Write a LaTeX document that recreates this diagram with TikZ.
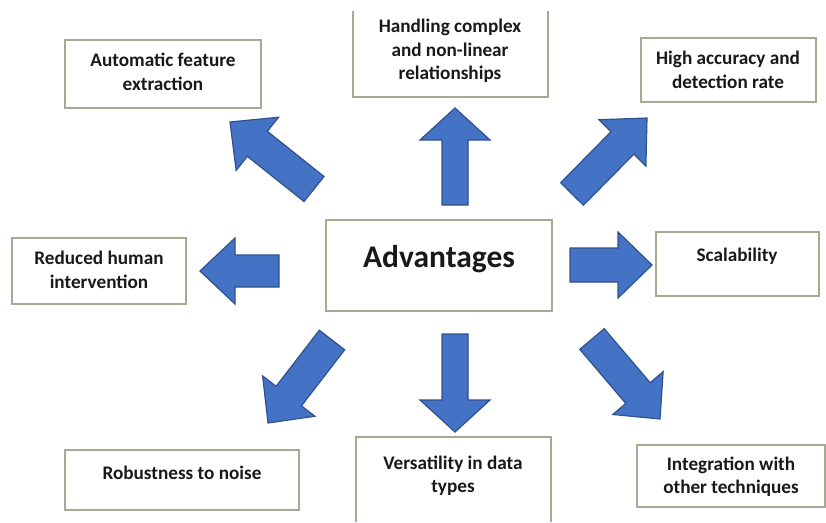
\documentclass[tikz,border=0pt]{standalone}
\usepackage{fontspec}
\setmainfont{Carlito}
\usetikzlibrary{calc}
\definecolor{arrfill}{HTML}{4472C4}
\definecolor{arrline}{HTML}{2F528F}
\definecolor{boxline}{HTML}{A3AC93}
\tikzset{
  boxframe/.style={draw=boxline, line width=1.5pt},
  lbl/.style={font=\bfseries\fontsize{19.2}{23.5}\selectfont, align=center, inner sep=0pt, text=black!90},
  biglbl/.style={font=\bfseries\fontsize{31.5}{34}\selectfont, inner sep=0pt, text=black!90},
  blockarr/.style={fill=arrfill, draw=arrline, line width=1.2pt, line join=miter}
}
\newcommand{\blockarrow}[6]{%
  \coordinate (#6h) at ($(#2)!#5!(#1)$);
  \draw[blockarr] ($(#1)!#3!90:(#2)$) -- ($(#6h)!#3!90:(#2)$) -- ($(#6h)!#4!90:(#2)$) -- (#2)
    -- ($(#6h)!#4!-90:(#2)$) -- ($(#6h)!#3!-90:(#2)$) -- ($(#1)!#3!-90:(#2)$) -- cycle;}
\begin{document}
\begin{tikzpicture}[x=1pt,y=-1pt]
\useasboundingbox[fill=white] (0,0) rectangle (826,522);
% boxes
\draw[boxframe] (65,40) rectangle (261,108);
\draw[boxframe] (353,11) -- (353,97) -- (548,97) -- (548,11);
\draw[boxframe] (641,38) rectangle (816,102);
\draw[boxframe] (12,238) rectangle (186,304);
\draw[boxframe] (326,220) rectangle (552,311);
\draw[boxframe] (656,232) rectangle (819,296);
\draw[boxframe] (65,450) rectangle (299,510);
\draw[boxframe] (356,522) -- (356,437) -- (551,437) -- (551,522);
\draw[boxframe] (637,445) rectangle (825,507);
% labels
\node[lbl] (auto) at (163,72) {Automatic feature\\extraction};
\node[lbl] (handl) at (450,51) {Handling complex\\and non-linear\\relationships};
\node[lbl] (high) at (728,70) {High accuracy and\\detection rate};
\node[lbl] (red) at (99,270) {Reduced human\\intervention};
\node[biglbl] (adv) at (439,259) {Advantages};
\node[lbl] (scal) at (737,256) {Scalability};
\node[lbl] (rob) at (182,473) {Robustness to noise};
\node[lbl] (vers) at (453,476) {Versatility in data\\types};
\node[lbl] (integ) at (731,477) {Integration with\\other techniques};
% arrow end points
\coordinate (upT) at (455,205); \coordinate (upP) at (455,108);
\coordinate (dnT) at (455,334); \coordinate (dnP) at (455,432);
\coordinate (ltT) at (279,271); \coordinate (ltP) at (200,271);
\coordinate (rtT) at (570,265); \coordinate (rtP) at (652,265);
\coordinate (nwT) at (314,189); \coordinate (nwP) at (230,122);
\coordinate (neT) at (572,194); \coordinate (neP) at (647,118);
\coordinate (swT) at (332,340); \coordinate (swP) at (268,423);
\coordinate (seT) at (592,339); \coordinate (seP) at (660,419);
\blockarrow{upT}{upP}{13pt}{35pt}{32pt}{up}
\blockarrow{dnT}{dnP}{13pt}{35pt}{32pt}{dn}
\blockarrow{ltT}{ltP}{16pt}{33pt}{35pt}{lt}
\blockarrow{rtT}{rtP}{17pt}{33pt}{34pt}{rt}
\blockarrow{nwT}{nwP}{16pt}{34pt}{35pt}{nw}
\blockarrow{neT}{neP}{16pt}{33pt}{35pt}{ne}
\blockarrow{swT}{swP}{16pt}{33pt}{34pt}{sw}
\blockarrow{seT}{seP}{16pt}{33pt}{34pt}{se}
\end{tikzpicture}
\end{document}
